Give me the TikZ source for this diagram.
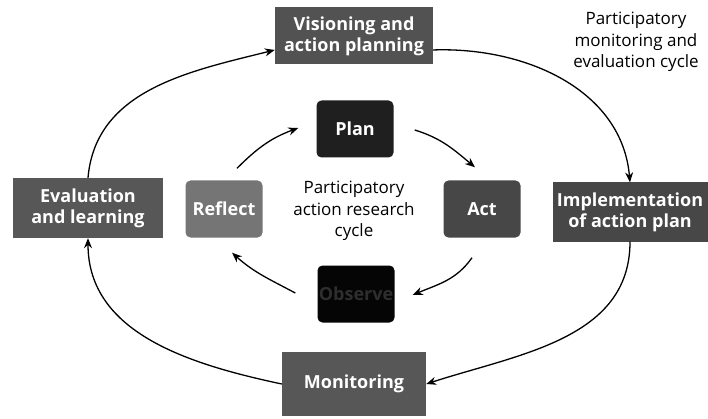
\documentclass[tikz,border=0pt]{standalone}
\usepackage{fontspec}
\setmainfont{Open Sans}
\usetikzlibrary{arrows.meta,calc}

\begin{document}
\begin{tikzpicture}[x=1pt,y=1pt,
  box/.style={rectangle, inner sep=0pt, align=center, text=white,
    font=\bfseries\fontsize{18}{21}\selectfont},
  outerbox/.style={box},
  innerbox/.style={box, rounded corners=5pt, minimum width=77pt, minimum height=57pt},
  arr/.style={-{Stealth[length=10pt,width=8pt]}, line width=1.3pt},
  label/.style={align=center, font=\fontsize{17}{21.5}\selectfont}]

\fill[white] (0,0) rectangle (708,418);
\useasboundingbox (0,0) rectangle (708,418);

% outer cycle boxes
\node[outerbox, fill=black!68, minimum width=158pt, minimum height=57pt] (vision) at (354,382)
  {Visioning and\\action planning};
\node[outerbox, fill=black!72, minimum width=155pt, minimum height=59pt] (impl) at (630,206)
  {Implementation\\of action plan};
\node[outerbox, fill=black!66, minimum width=144pt, minimum height=64pt] (monit) at (354,34)
  {Monitoring};
\node[outerbox, fill=black!66, minimum width=150pt, minimum height=60pt] (eval) at (88,210)
  {Evaluation\\and learning};

% inner cycle boxes
\node[innerbox, fill=black!88] (plan) at (355,289) {Plan};
\node[innerbox, fill=black!72] (act) at (482,209) {Act};
\node[innerbox, fill=black!98, text=black!82] (observe) at (356,124) {Observe};
\node[innerbox, fill=black!54] (reflect) at (224,209) {Reflect};

% captions
\node[label] (inner) at (354,207) {Participatory\\action research\\cycle};
\node[label] (outer) at (636,376) {Participatory\\monitoring and\\evaluation cycle};

% outer cycle connectors
\draw[arr] (eval.north) to[out=85, in=194] (vision.190);
\draw[arr] (vision.-10) to[out=2, in=95] (impl.north);
\draw[arr] (impl.south) to[out=-90, in=18] (monit.east);
\draw[arr] (monit.west) to[out=168, in=-90] (eval.south);

% inner cycle connectors
\coordinate (rp-s) at ($(reflect.north)+(13,12)$);
\coordinate (rp-e) at ($(plan.west)+(-18,1)$);
\coordinate (pa-s) at ($(plan.east)+(21,-1)$);
\coordinate (pa-e) at ($(act.north)+(-7,13)$);
\coordinate (ao-s) at ($(act.south)+(-10,-20)$);
\coordinate (ao-e) at ($(observe.east)+(18,-1)$);
\coordinate (or-s) at ($(observe.west)+(-22,1)$);
\coordinate (or-e) at ($(reflect.south)+(8,-15)$);
\draw[arr] (rp-s) to[out=45, in=200] (rp-e);
\draw[arr] (pa-s) to[out=-17, in=140] (pa-e);
\draw[arr] (ao-s) to[out=-125, in=23] (ao-e);
\draw[arr] (or-s) to[out=152, in=-42] (or-e);
\end{tikzpicture}
\end{document}
